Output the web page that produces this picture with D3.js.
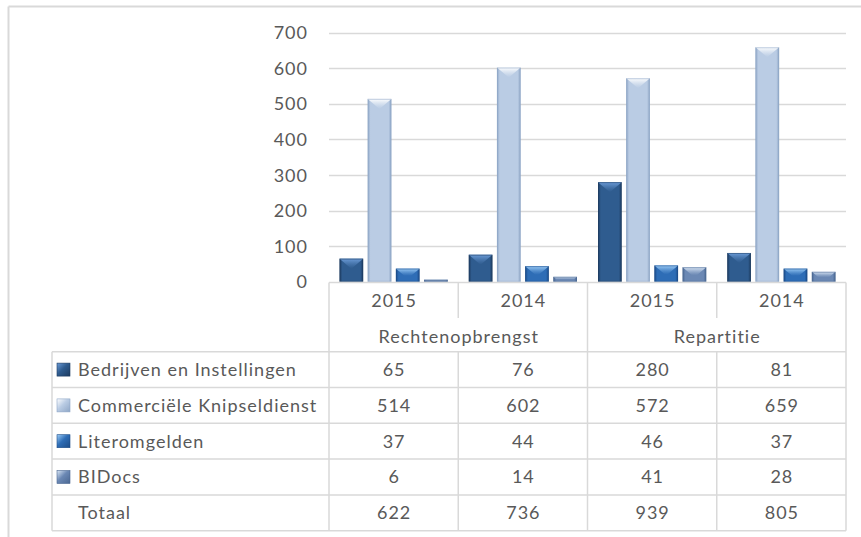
<!DOCTYPE html>
<html>
<head>
<meta charset="utf-8">
<script src="https://cdn.jsdelivr.net/npm/d3@7/dist/d3.min.js"></script>
<style>
  html, body { margin: 0; padding: 0; background: #fff; }
  svg { display: block; }
  text { font-family: Lato, "Open Sans", sans-serif; fill: #595959; }
</style>
</head>
<body>
<svg id="chart" width="861" height="537"></svg>
<script>
// ---- Data ----
const categories = ["2015", "2014", "2015", "2014"];
const groups = ["Rechtenopbrengst", "Repartitie"];
const seriesNames = ["Bedrijven en Instellingen", "Commerciële Knipseldienst", "Literomgelden", "BIDocs"];
const bedrijven = [65, 76, 280, 81];
const knipseldienst = [514, 602, 572, 659];
const literomgelden = [37, 44, 46, 37];
const bidocs = [6, 14, 41, 28];
const totaal = [622, 736, 939, 805];
const totaalLabel = "Totaal";
const yTicks = [0, 100, 200, 300, 400, 500, 600, 700];

const seriesValues = [bedrijven, knipseldienst, literomgelden, bidocs];
const palette = [
  { body: "#2F5C8F", edge: "#1D3B60", top: "#6C9CD8" },
  { body: "#BACCE4", edge: "#8EA6C6", top: "#FFFFFF" },
  { body: "#2E6DB6", edge: "#1C4C88", top: "#9CCDF8" },
  { body: "#6B88B4", edge: "#4A6792", top: "#DDE9F7" }
];

const svg = d3.select("#chart");
const W = 861, H = 537;
const X0 = 329, X1 = 846;
const legendLeft = 52;
const gridColor = "#d9d9d9";
const FS = 18, LS = 1;

// frame
svg.append("line").attr("x1", 8.5).attr("x2", W).attr("y1", 6.5).attr("y2", 6.5)
  .attr("stroke", gridColor).attr("stroke-width", 2);
svg.append("line").attr("x1", 8.5).attr("x2", 8.5).attr("y1", 6.5).attr("y2", H)
  .attr("stroke", gridColor).attr("stroke-width", 2);

// scales
const x = d3.scaleBand().domain(d3.range(categories.length)).range([X0, X1]).padding(0);
const xs = d3.scaleBand().domain(d3.range(seriesNames.length))
  .range([10.5, x.bandwidth() - 10.5]).paddingInner(0.16);
const y = d3.scaleLinear().domain([0, 700]).range([281.8, 32.7]);

// gradients
const defs = svg.append("defs");
palette.forEach((p, i) => {
  const g = defs.append("linearGradient").attr("id", "body" + i)
    .attr("x1", "0").attr("x2", "1").attr("y1", "0").attr("y2", "0");
  g.append("stop").attr("offset", "0").attr("stop-color", p.edge);
  g.append("stop").attr("offset", "0.12").attr("stop-color", p.body);
  g.append("stop").attr("offset", "0.88").attr("stop-color", p.body);
  g.append("stop").attr("offset", "1").attr("stop-color", p.edge);
  const t = defs.append("linearGradient").attr("id", "top" + i)
    .attr("x1", "0").attr("x2", "0").attr("y1", "0").attr("y2", "1");
  t.append("stop").attr("offset", "0").attr("stop-color", p.top);
  t.append("stop").attr("offset", "1").attr("stop-color", p.body).attr("stop-opacity", 0.6);
  const k = defs.append("linearGradient").attr("id", "key" + i)
    .attr("x1", "0").attr("x2", "1").attr("y1", "0").attr("y2", "1");
  k.append("stop").attr("offset", "0").attr("stop-color", p.top);
  k.append("stop").attr("offset", "0.45").attr("stop-color", p.body);
  k.append("stop").attr("offset", "1").attr("stop-color", p.edge);
});

// gridlines
svg.append("g").selectAll("line").data(yTicks.filter(t => t > 0)).join("line")
  .attr("x1", X0).attr("x2", X1)
  .attr("y1", d => Math.round(y(d)) + 0.5).attr("y2", d => Math.round(y(d)) + 0.5)
  .attr("stroke", gridColor).attr("stroke-width", 1.5);

// y labels
svg.append("g").selectAll("text").data(yTicks).join("text")
  .attr("x", 307 + LS).attr("y", d => y(d)).attr("dy", "0.36em")
  .attr("text-anchor", "end").attr("font-size", FS).attr("letter-spacing", LS).text(d => d);

// bars
const barG = svg.append("g");
seriesValues.forEach((vals, si) => {
  vals.forEach((v, ci) => {
    const bx = x(ci) + xs(si), bw = xs.bandwidth();
    const top = y(v), bot = y(0), h = bot - top;
    barG.append("rect").attr("x", bx).attr("y", top).attr("width", bw).attr("height", h)
      .attr("fill", `url(#body${si})`);
    const D = 10;
    const d = Math.min(D, h * 0.55);
    const inset = (bw / 2) * (d / D);
    barG.append("path")
      .attr("d", `M${bx},${top}L${bx + bw},${top}L${bx + bw - inset},${top + d}L${bx + inset},${top + d}Z`)
      .attr("fill", `url(#top${si})`);
    barG.append("rect").attr("x", bx + 0.5).attr("y", top + 0.5).attr("width", bw - 1).attr("height", Math.max(0, h - 1))
      .attr("fill", "none").attr("stroke", palette[si].edge).attr("stroke-opacity", 0.5).attr("stroke-width", 1);
  });
});

// ---- data table ----
const rowTop = 351.7, rowH = 35.8;
const tableBottom = rowTop + rowH * (seriesNames.length + 1);
const lines = svg.append("g").attr("stroke", gridColor).attr("stroke-width", 1.5);
// axis line
lines.append("line").attr("x1", X0).attr("x2", X1).attr("y1", 282.6).attr("y2", 282.6);
// horizontal rows
d3.range(seriesNames.length + 2).forEach(r => {
  const yy = rowTop + r * rowH;
  lines.append("line").attr("x1", legendLeft).attr("x2", X1).attr("y1", yy).attr("y2", yy);
});
// vertical lines
lines.append("line").attr("x1", legendLeft).attr("x2", legendLeft).attr("y1", rowTop).attr("y2", tableBottom);
[0, 2, 4].forEach(i => {
  const xx = i < 4 ? x(i) : X1;
  lines.append("line").attr("x1", xx).attr("x2", xx).attr("y1", 282.6).attr("y2", tableBottom);
});
[1, 3].forEach(i => {
  lines.append("line").attr("x1", x(i)).attr("x2", x(i)).attr("y1", 282.6).attr("y2", 318);
  lines.append("line").attr("x1", x(i)).attr("x2", x(i)).attr("y1", rowTop).attr("y2", tableBottom);
});

const txt = svg.append("g").attr("font-size", FS).attr("letter-spacing", LS);
const cx = i => x(i) + x.bandwidth() / 2 + LS / 2;
// years
txt.selectAll(".yr").data(categories).join("text").attr("class", "yr")
  .attr("x", (d, i) => cx(i)).attr("y", 300.8).attr("dy", "0.36em")
  .attr("text-anchor", "middle").text(d => d);
// groups
txt.selectAll(".grp").data(groups).join("text").attr("class", "grp")
  .attr("x", (d, i) => x(i * 2) + x.bandwidth() + LS / 2).attr("y", 336.5).attr("dy", "0.36em")
  .attr("text-anchor", "middle").text(d => d);
// rows
const rows = seriesNames.map((n, i) => ({ name: n, vals: seriesValues[i], key: i }))
  .concat([{ name: totaalLabel, vals: totaal, key: -1 }]);
rows.forEach((r, ri) => {
  const cy = rowTop + ri * rowH + rowH / 2;
  if (r.key >= 0) {
    svg.append("rect").attr("x", 57).attr("y", cy - 6.5).attr("width", 13).attr("height", 13)
      .attr("fill", `url(#key${r.key})`).attr("stroke", palette[r.key].edge).attr("stroke-width", 0.6);
  }
  txt.append("text").attr("x", 78).attr("y", cy).attr("dy", "0.36em").text(r.name);
  r.vals.forEach((v, ci) => {
    txt.append("text").attr("x", cx(ci)).attr("y", cy).attr("dy", "0.36em")
      .attr("text-anchor", "middle").text(v);
  });
});
</script>
</body>
</html>
